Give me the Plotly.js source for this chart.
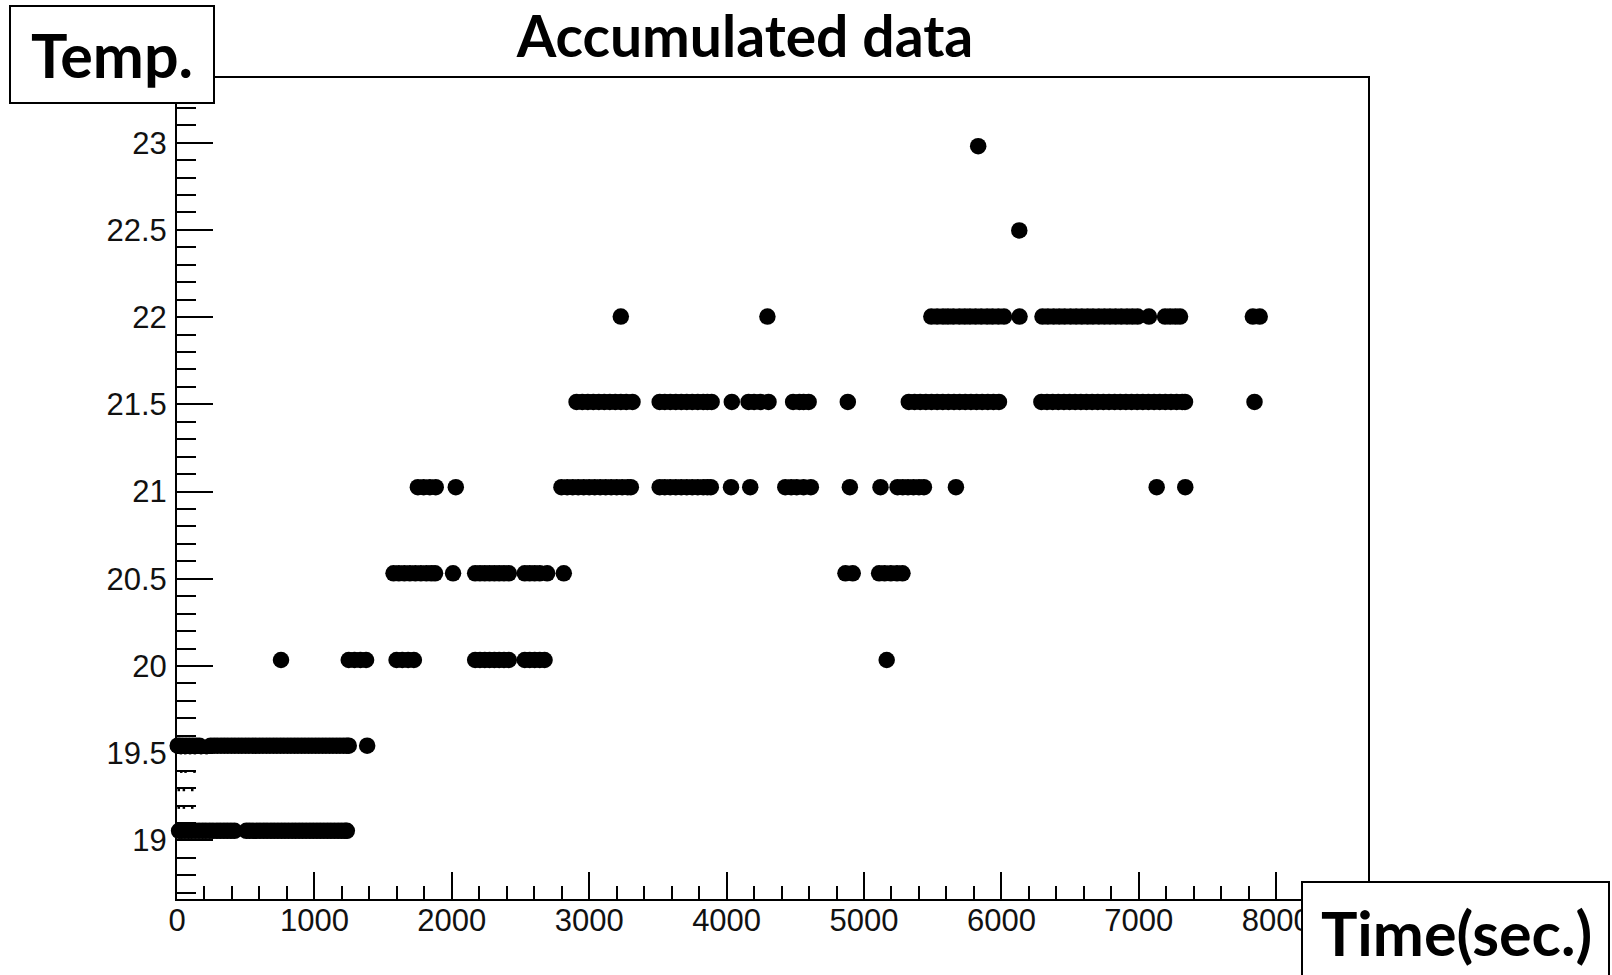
<!DOCTYPE html>
<html>
<head>
<meta charset="utf-8">
<script src="https://cdn.plot.ly/plotly-3.0.1.min.js"></script>
<style>
  html, body { margin: 0; padding: 0; background: #ffffff; }
  #chart { width: 1612px; height: 975px; }
</style>
</head>
<body>
<div id="chart"></div>
<script>
// ---------- data ----------
// temperature levels (deg C) at which the readings sit
const levels = [19.055, 19.543, 20.034, 20.531, 21.025, 21.514, 22.003, 22.497, 22.98];

// time stamps (sec.) of the readings for each level
const t_19_06 = [15, 33, 58, 84, 107, 133, 160, 186, 210, 237, 262, 290, 315, 341, 366, 392, 418,
  505, 528, 553, 579, 604, 631, 656, 683, 708, 734, 760, 785, 811, 838, 863, 889, 914, 940, 967,
  992, 1018, 1043, 1069, 1095, 1120, 1146, 1172, 1197, 1222, 1236];
const t_19_54 = [5, 20, 42, 66, 90, 115, 140, 163, 245, 270, 294, 320, 345, 370, 396, 421, 447, 472,
  498, 523, 549, 574, 600, 625, 651, 676, 702, 727, 753, 778, 804, 829, 855, 880, 906, 931, 957,
  982, 1008, 1033, 1059, 1084, 1110, 1135, 1161, 1186, 1212, 1236, 1250, 1384];
const t_20_03 = [757, 1250, 1292, 1335, 1376, 1598, 1640, 1682, 1724, 2170, 2205, 2240, 2275, 2310,
  2345, 2380, 2415, 2531, 2567, 2603, 2640, 2675, 5165];
const t_20_53 = [1576, 1615, 1655, 1695, 1735, 1775, 1815, 1850, 1878, 2009, 2170, 2205, 2240, 2275,
  2310, 2345, 2380, 2415, 2531, 2567, 2603, 2640, 2694, 2815, 4865, 4918, 5110, 5150, 5195, 5240, 5280];
const t_21_03 = [1753, 1795, 1840, 1883, 2029, 2798, 2840, 2880, 2920, 2960, 3000, 3040, 3080, 3120,
  3160, 3200, 3240, 3280, 3303, 3513, 3550, 3590, 3630, 3670, 3710, 3750, 3790, 3830, 3860, 3885,
  4032, 4172, 4427, 4470, 4510, 4560, 4613, 4897, 5120, 5244, 5282, 5320, 5360, 5400, 5436, 5669,
  7130, 7338];
const t_21_51 = [2908, 2950, 2990, 3030, 3070, 3110, 3150, 3190, 3230, 3270, 3315, 3513, 3550, 3590,
  3630, 3670, 3710, 3750, 3790, 3830, 3860, 3891, 4038, 4160, 4200, 4245, 4305, 4484, 4530, 4560,
  4597, 4882, 5326, 5368, 5409, 5450, 5491, 5532, 5573, 5614, 5655, 5696, 5737, 5778, 5819, 5860,
  5901, 5942, 5982, 6291, 6332, 6373, 6414, 6455, 6496, 6537, 6578, 6619, 6660, 6701, 6742, 6783,
  6824, 6865, 6906, 6947, 6988, 7029, 7070, 7111, 7152, 7193, 7234, 7275, 7316, 7336, 7842];
const t_22_00 = [3230, 4297, 5490, 5532, 5575, 5611, 5650, 5694, 5733, 5771, 5812, 5853, 5896, 5935,
  5978, 6019, 6132, 6299, 6338, 6380, 6421, 6460, 6503, 6544, 6585, 6627, 6666, 6709, 6750, 6790,
  6831, 6872, 6914, 6953, 6991, 7074, 7191, 7228, 7266, 7300, 7830, 7880];
const t_22_50 = [6130];
const t_22_98 = [5831];

// small dot readings near the start
const dotTimes = [28, 60, 95, 130, 175, 215, 31, 62, 127, 13, 50, 111, 13, 50, 111];
const dotTemps = [19.5, 19.5, 19.5, 19.5, 19.5, 19.5, 19.394, 19.394, 19.394, 19.289, 19.289, 19.289,
  19.188, 19.188, 19.188];

const xTicks = [0, 1000, 2000, 3000, 4000, 5000, 6000, 7000, 8000];
const yTicks = [19, 19.5, 20, 20.5, 21, 21.5, 22, 22.5, 23];

// ---------- build the trace ----------
const timeSets = [t_19_06, t_19_54, t_20_03, t_20_53, t_21_03, t_21_51, t_22_00, t_22_50, t_22_98];
const xs = [], ys = [];
timeSets.forEach((arr, i) => arr.forEach(t => { xs.push(t); ys.push(levels[i]); }));

// ---------- geometry ----------
const L = 177, R = 244, T = 78, B = 76;
const W = 1612 - L - R, H = 975 - T - B;
const px2x = p => (p - L) / W;
const py2y = p => 1 - (p - T) / H;

const tickFont = { family: 'Liberation Sans, Arial, sans-serif', size: 31, color: '#111' };
const boxFont = { family: 'Lato, Carlito, sans-serif', size: 61, color: '#000', weight: 700 };

const data = [
  {
    type: 'scatter', mode: 'markers', x: xs, y: ys,
    marker: { symbol: 'circle', size: 16.5, color: '#000' },
    cliponaxis: false, hoverinfo: 'x+y', showlegend: false
  },
  {
    type: 'scatter', mode: 'markers', x: dotTimes, y: dotTemps,
    marker: { symbol: 'square', size: 2.5, color: '#000' },
    cliponaxis: false, hoverinfo: 'x+y', showlegend: false
  }
];

const layout = {
  width: 1612, height: 975,
  margin: { l: L, r: R, t: T, b: B, pad: 0 },
  paper_bgcolor: '#fff', plot_bgcolor: '#fff',
  showlegend: false,
  title: {
    text: 'Accumulated data',
    font: { family: 'Lato, Carlito, sans-serif', size: 57, color: '#000', weight: 700 },
    x: 745 / 1612, xanchor: 'center', xref: 'container',
    y: 1 - 37 / 975, yanchor: 'middle', yref: 'container'
  },
  xaxis: {
    range: [0, 8668], autorange: false,
    tickmode: 'array', tickvals: xTicks, ticktext: xTicks.map(String),
    ticks: 'inside', ticklen: 27, tickwidth: 2, tickcolor: '#000',
    minor: { dtick: 200, tick0: 0, ticks: 'inside', ticklen: 13, tickwidth: 2, tickcolor: '#000', showgrid: false },
    showgrid: false, zeroline: false,
    showline: true, linecolor: '#000', linewidth: 2, mirror: true,
    tickfont: tickFont, ticklabelstandoff: -7
  },
  yaxis: {
    range: [18.664, 23.371], autorange: false,
    tickmode: 'array', tickvals: yTicks, ticktext: yTicks.map(String),
    ticks: 'inside', ticklen: 36, tickwidth: 2, tickcolor: '#000',
    minor: { dtick: 0.1, tick0: 19, ticks: 'inside', ticklen: 19, tickwidth: 2, tickcolor: '#000', showgrid: false },
    showgrid: false, zeroline: false,
    showline: true, linecolor: '#000', linewidth: 2, mirror: true,
    tickfont: tickFont, ticklabelstandoff: 2
  },
  shapes: [
    { type: 'rect', xref: 'paper', yref: 'paper', layer: 'above',
      x0: px2x(10), x1: px2x(214), y0: py2y(103), y1: py2y(6),
      fillcolor: '#fff', line: { color: '#000', width: 2 } },
    { type: 'rect', xref: 'paper', yref: 'paper', layer: 'above',
      x0: px2x(1302), x1: px2x(1609), y0: py2y(995), y1: py2y(882),
      fillcolor: '#fff', line: { color: '#000', width: 2 } }
  ],
  annotations: [
    { text: 'Temp.', xref: 'paper', yref: 'paper', x: px2x(112), y: py2y(55),
      xanchor: 'center', yanchor: 'middle', showarrow: false, font: boxFont },
    { text: 'Time(sec.)', xref: 'paper', yref: 'paper', x: px2x(1456), y: py2y(933),
      xanchor: 'center', yanchor: 'middle', showarrow: false, font: boxFont }
  ]
};

Plotly.newPlot('chart', data, layout, { displayModeBar: false, staticPlot: true });
</script>
</body>
</html>
